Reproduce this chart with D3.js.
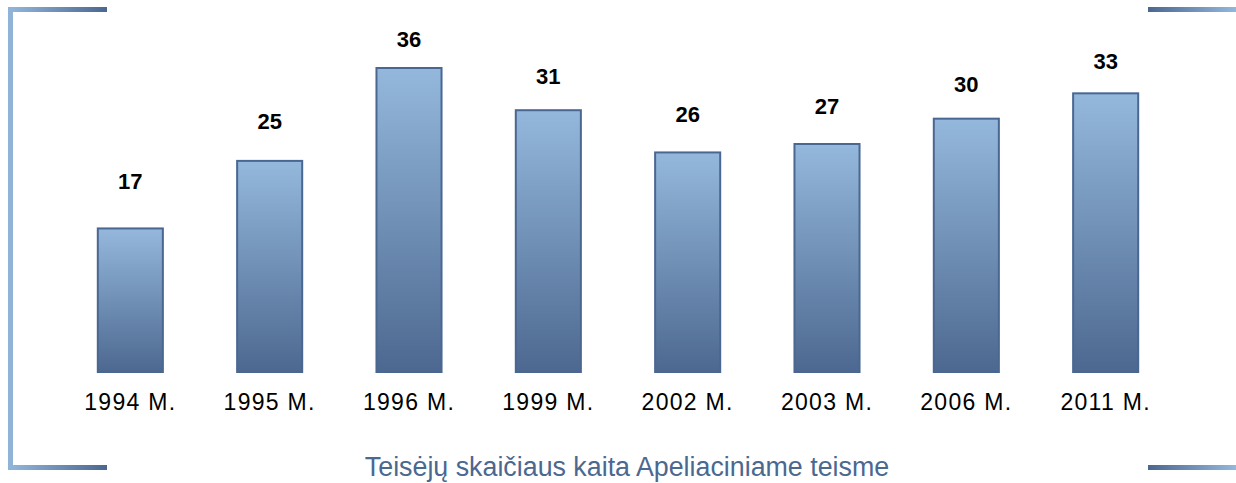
<!DOCTYPE html>
<html>
<head>
<meta charset="utf-8">
<script src="https://cdn.jsdelivr.net/npm/d3@7"></script>
<style>
  body { margin: 0; background: #fff; }
  svg { display: block; }
</style>
</head>
<body>
<div id="chart"></div>
<script>
const years = ['1994 M.', '1995 M.', '1996 M.', '1999 M.', '2002 M.', '2003 M.', '2006 M.', '2011 M.']
const judges = [17, 25, 36, 31, 26, 27, 30, 33]
const title = 'Teisėjų skaičiaus kaita Apeliaciniame teisme'

const width = 1236
const height = 483
const baseY = 372

const svg = d3.select('#chart')
  .append('svg')
  .attr('width', width)
  .attr('height', height)

const defs = svg.append('defs')

// bar fill: light at top, dark at bottom
const barGrad = defs.append('linearGradient')
  .attr('id', 'bar-grad')
  .attr('x1', 0).attr('y1', 0).attr('x2', 0).attr('y2', 1)
barGrad.append('stop').attr('offset', '0%').attr('stop-color', '#94b8dc')
barGrad.append('stop').attr('offset', '100%').attr('stop-color', '#4d6890')

// frame pieces
const leftGrad = defs.append('linearGradient')
  .attr('id', 'frame-left')
  .attr('x1', 0).attr('y1', 0).attr('x2', 1).attr('y2', 0)
leftGrad.append('stop').attr('offset', '0%').attr('stop-color', '#93b8db')
leftGrad.append('stop').attr('offset', '100%').attr('stop-color', '#4b6790')

const rightGrad = defs.append('linearGradient')
  .attr('id', 'frame-right')
  .attr('x1', 0).attr('y1', 0).attr('x2', 1).attr('y2', 0)
rightGrad.append('stop').attr('offset', '0%').attr('stop-color', '#4b6790')
rightGrad.append('stop').attr('offset', '100%').attr('stop-color', '#93b8db')

const frame = svg.append('g').classed('frame', true)
frame.append('rect').attr('x', 8).attr('y', 7).attr('width', 99).attr('height', 5).style('fill', 'url(#frame-left)')
frame.append('rect').attr('x', 8).attr('y', 465).attr('width', 99).attr('height', 5).style('fill', 'url(#frame-left)')
frame.append('rect').attr('x', 8).attr('y', 7).attr('width', 5).attr('height', 463).style('fill', '#8fb4d8')
frame.append('rect').attr('x', 1148).attr('y', 7).attr('width', 88).attr('height', 5).style('fill', 'url(#frame-right)')
frame.append('rect').attr('x', 1148).attr('y', 465).attr('width', 88).attr('height', 5).style('fill', 'url(#frame-right)')

// scales
const xScale = d3.scaleBand()
  .domain(years)
  .range([56, 1180])
  .paddingInner(0.533)
  .paddingOuter(0.3)

const yScale = d3.scaleLinear()
  .domain([0, 36])
  .range([baseY, 68])

// value labels sit on their own scale (they are not a fixed distance above the bars)
const labelScale = d3.scaleLinear()
  .domain([17, 36])
  .range([189, 47])

const nodeg = svg.append('g').classed('bar', true)
  .selectAll('g.node')
  .data(years.map((y, i) => ({ year: y, value: judges[i] })))
  .enter()
  .append('g')
  .classed('node', true)

nodeg.append('rect')
  .attr('x', d => xScale(d.year))
  .attr('y', d => yScale(d.value))
  .attr('width', xScale.bandwidth())
  .attr('height', d => baseY - yScale(d.value))
  .style('fill', 'url(#bar-grad)')
  .style('stroke', '#4a6792')
  .style('stroke-width', 2)

nodeg.append('text')
  .text(d => d.value)
  .attr('x', d => xScale(d.year) + xScale.bandwidth() / 2)
  .attr('y', d => labelScale(d.value))
  .attr('text-anchor', 'middle')
  .style('font-family', 'Liberation Sans, Arial, sans-serif')
  .style('font-weight', 'bold')
  .style('font-size', '22px')
  .style('fill', '#000')

// x axis labels
const xAxis = d3.axisBottom(xScale).tickSize(0).tickPadding(0)
const xAxisg = svg.append('g').classed('xAxis', true)
  .attr('transform', `translate(0, ${baseY + 21})`)
  .call(xAxis)
xAxisg.select('.domain').remove()
xAxisg.selectAll('text')
  .attr('dy', '0.72em')
  .style('font-family', 'Liberation Sans, Arial, sans-serif')
  .style('font-size', '23px')
  .style('letter-spacing', '1.3px')
  .style('fill', '#000')

svg.append('text')
  .text(title)
  .attr('x', 627)
  .attr('y', 476)
  .attr('text-anchor', 'middle')
  .style('font-family', 'Liberation Sans, Arial, sans-serif')
  .style('font-size', '26.8px')
  .style('fill', '#4a6890')
</script>
</body>
</html>
